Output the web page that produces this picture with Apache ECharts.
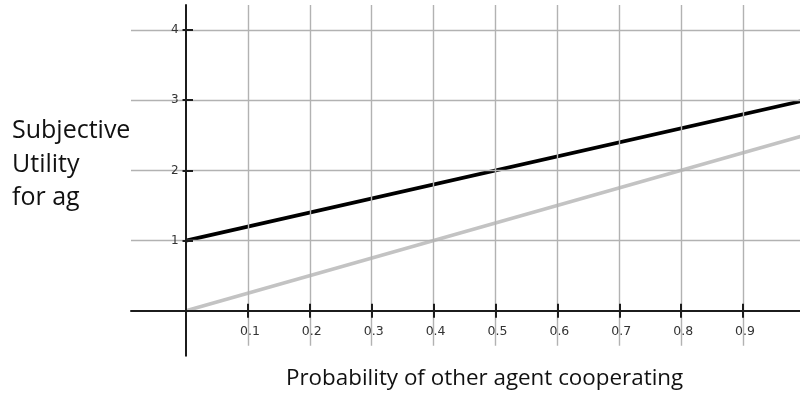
<!DOCTYPE html>
<html><head><meta charset="utf-8">
<script src="https://cdn.jsdelivr.net/npm/echarts@6/dist/echarts.min.js"></script>
<style>html,body{margin:0;padding:0;background:#fff}#c{width:800px;height:401px}</style>
</head><body><div id="c"></div>
<script>
// Data
const probability = [0, 1];
const utilityCooperate = [1, 3];   // black line
const utilityDefect = [0, 2.5];    // gray line
const xTickValues = [0.1, 0.2, 0.3, 0.4, 0.5, 0.6, 0.7, 0.8, 0.9];
const yTickValues = [1, 2, 3, 4];
const yAxisLabel = 'Subjective\nUtility\nfor ag';
const xAxisLabel = 'Probability of other agent cooperating';

const X_MIN = -0.0889, X_MAX = 0.992;
const Y_MIN = -0.64, Y_MAX = 4.357, GRID_Y_MIN = -0.5;

// layout
const W = 800, H = 401;
const G = {left: 131, right: 0, top: 5, bottom: 45.3};
const plotW = W - G.left - G.right, plotH = H - G.top - G.bottom;
const zeroY = G.top + (Y_MAX - 0) / (Y_MAX - Y_MIN) * plotH;   // pixel of y=0
const zeroX = G.left + (0 - X_MIN) / (X_MAX - X_MIN) * plotW;  // pixel of x=0

const chart = echarts.init(document.getElementById('c'), null, {renderer: 'canvas'});
const axisCol = '#1c1c1c';
const gridCol = '#b2b2b2';
const labelCol = '#333';

const vGrid = xTickValues.map(v => [{coord: [v, GRID_Y_MIN]}, {coord: [v, Y_MAX]}]);
const hGrid = yTickValues.map(v => ({yAxis: v}));

const hidden = (type, gi, min, max) => ({type: 'value', gridIndex: gi, min, max, show: false});

chart.setOption({
  animation: false,
  backgroundColor: '#fff',
  grid: [
    {left: G.left, right: G.right, top: G.top, bottom: G.bottom},           // plot
    {left: G.left, right: G.right, top: G.top, bottom: H - zeroY},          // x axis at y=0
    {left: zeroX, right: G.right, top: G.top, bottom: G.bottom}             // y axis at x=0
  ],
  title: [
    {text: yAxisLabel, left: 7, top: 109,
     textStyle: {fontFamily: 'Open Sans', fontSize: 25, fontWeight: 'normal', color: '#111', lineHeight: 33.7}},
    {text: xAxisLabel, left: 281, top: 363,
     textStyle: {fontFamily: 'Open Sans', fontSize: 22.4, fontWeight: 'normal', color: '#111'}}
  ],
  xAxis: [
    hidden('value', 0, X_MIN, X_MAX),
    {
      type: 'value', gridIndex: 1, min: X_MIN, max: X_MAX, position: 'bottom', z: 5,
      axisLine: {show: true, onZero: false, lineStyle: {color: axisCol, width: 2}},
      splitLine: {show: false},
      axisTick: {show: true, inside: false, length: 7, customValues: xTickValues, lineStyle: {color: axisCol, width: 2}},
      axisLabel: {show: true, customValues: xTickValues, margin: 14, fontFamily: 'DejaVu Sans', fontSize: 12.5,
        color: labelCol, padding: [0, 0, 0, 4], formatter: v => String(v)}
    },
    {
      type: 'value', gridIndex: 1, min: X_MIN, max: X_MAX, position: 'bottom', z: 5,
      axisLine: {show: false, onZero: false},
      splitLine: {show: false},
      axisTick: {show: true, inside: true, length: 7, customValues: xTickValues, lineStyle: {color: axisCol, width: 2}},
      axisLabel: {show: false}
    },
    hidden('value', 2, 0, X_MAX)
  ],
  yAxis: [
    hidden('value', 0, Y_MIN, Y_MAX),
    hidden('value', 1, 0, Y_MAX),
    {
      type: 'value', gridIndex: 2, min: Y_MIN, max: Y_MAX, position: 'left', z: 5,
      axisLine: {show: true, onZero: false, lineStyle: {color: axisCol, width: 2}},
      splitLine: {show: false},
      axisTick: {show: true, inside: false, length: 3.5, customValues: yTickValues, lineStyle: {color: axisCol, width: 2}},
      axisLabel: {show: true, customValues: yTickValues, margin: 7.5, fontFamily: 'DejaVu Sans', fontSize: 12,
        color: labelCol, formatter: v => String(v)}
    },
    {
      type: 'value', gridIndex: 2, min: Y_MIN, max: Y_MAX, position: 'left', z: 5,
      axisLine: {show: false, onZero: false},
      splitLine: {show: false},
      axisTick: {show: true, inside: true, length: 7, customValues: yTickValues, lineStyle: {color: axisCol, width: 2}},
      axisLabel: {show: false}
    }
  ],
  series: [
    {
      type: 'line', xAxisIndex: 0, yAxisIndex: 0, z: 1, silent: true,
      data: [], showSymbol: false,
      markLine: {
        silent: true, symbol: 'none', animation: false,
        label: {show: false},
        lineStyle: {color: gridCol, width: 1.4, type: 'solid'},
        data: vGrid.concat(hGrid)
      }
    },
    {
      type: 'line', xAxisIndex: 0, yAxisIndex: 0, z: 3, silent: true,
      data: probability.map((p, i) => [p, utilityDefect[i]]),
      showSymbol: false, lineStyle: {color: '#c3c3c3', width: 3.6}
    },
    {
      type: 'line', xAxisIndex: 0, yAxisIndex: 0, z: 4, silent: true,
      data: probability.map((p, i) => [p, utilityCooperate[i]]),
      showSymbol: false, lineStyle: {color: '#000', width: 3.8}
    }
  ]
});
</script></body></html>
